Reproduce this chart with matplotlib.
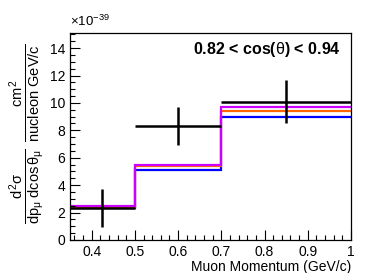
import matplotlib
matplotlib.use("Agg")
import matplotlib.pyplot as plt
from matplotlib.ticker import MultipleLocator

plt.rcParams['font.family'] = ['Liberation Sans', 'DejaVu Sans']
plt.rcParams['mathtext.fontset'] = 'custom'
plt.rcParams['mathtext.rm'] = 'Liberation Sans'
plt.rcParams['mathtext.it'] = 'Liberation Sans'
plt.rcParams['mathtext.bf'] = 'Liberation Sans:bold'

# bin edges in muon momentum (GeV/c)
edges = [0.35, 0.5, 0.7, 1.0]
centers = [0.425, 0.6, 0.85]
half_widths = [0.075, 0.1, 0.15]

# measured cross section (x 1e-39) and errors
data_vals = [2.35, 8.3, 10.1]
data_errs = [1.4, 1.4, 1.6]

# model predictions (x 1e-39)
blue_vals = [2.35, 5.08, 8.97]
orange_vals = [2.42, 5.38, 9.4]
magenta_vals = [2.47, 5.5, 9.7]

fig = plt.figure(figsize=(3.87, 2.73), dpi=100)
ax = fig.add_axes([0.181, 0.121, 0.726, 0.758])

ax.stairs(blue_vals, edges, baseline=None, color='#0000ff', lw=1.6)
ax.stairs(orange_vals, edges, baseline=None, color='#ff6600', lw=1.6)
ax.stairs(magenta_vals, edges, baseline=None, color='#cc00ff', lw=1.6)
ax.errorbar(centers, data_vals, xerr=half_widths, yerr=data_errs,
            fmt='none', ecolor='black', elinewidth=1.8, capsize=0)

ax.set_xlim(0.35, 1.0)
ax.set_ylim(0, 15.1)

ax.xaxis.set_major_locator(MultipleLocator(0.1))
ax.xaxis.set_minor_locator(MultipleLocator(0.02))
ax.yaxis.set_major_locator(MultipleLocator(2))
ax.yaxis.set_minor_locator(MultipleLocator(0.5))
ax.tick_params(which='both', direction='in', top=False, right=False, labelsize=10)
ax.tick_params(which='major', length=7, width=0.8)
ax.tick_params(which='minor', length=3.5, width=0.8)
ax.set_xticks([0.4, 0.5, 0.6, 0.7, 0.8, 0.9, 1.0])
ax.set_xticklabels(['0.4', '0.5', '0.6', '0.7', '0.8', '0.9', '1'])
for s in ax.spines.values():
    s.set_linewidth(0.9)

ax.set_xlabel('Muon Momentum (GeV/c)', fontsize=10, loc='right', labelpad=1)

fig.text(0.07, 0.51,
         r'$\frac{d^{2}\sigma}{dp_{\mu}\ d\cos\theta_{\mu}}$ $\frac{cm^{2}}{nucleon\ GeV/c}$',
         rotation=90, ha='center', va='center', fontsize=15)

fig.text(0.181, 0.895, r'$\times10^{-39}$', fontsize=9.5, ha='left', va='bottom')

ax.text(0.965, 0.965, r'0.82 < cos($\theta$) < 0.94', transform=ax.transAxes,
        ha='right', va='top', fontsize=11.5, fontweight='bold')

fig.savefig('out.png', dpi=100)
